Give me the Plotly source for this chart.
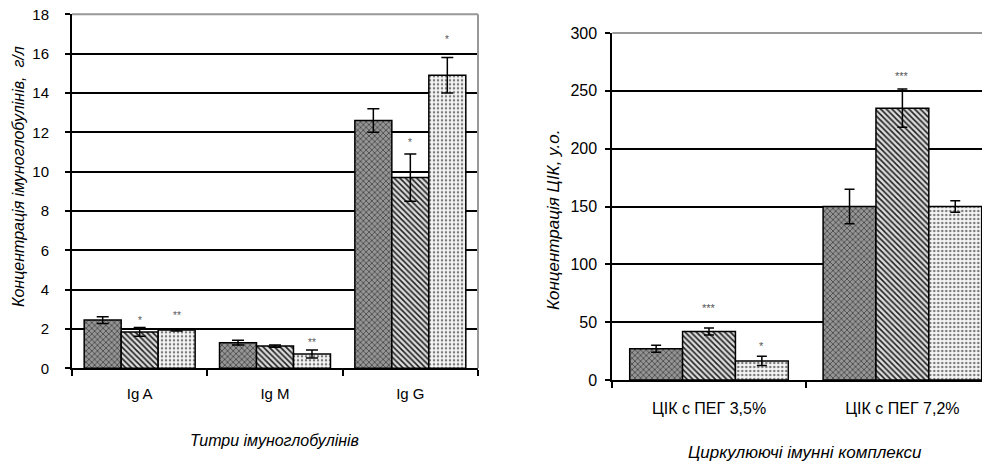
import plotly.graph_objects as go

# ---------------- data ----------------
ig_categories = ["Ig A", "Ig M", "Ig G"]
ig_group1 = [2.45, 1.30, 12.6]
ig_group1_err = [0.17, 0.12, 0.6]
ig_group2 = [1.85, 1.13, 9.7]
ig_group2_err = [0.22, 0.06, 1.2]
ig_group3 = [1.95, 0.73, 14.9]
ig_group3_err = [0.05, 0.20, 0.9]
ig_stars = [["", "*", "**"], ["", "", "**"], ["", "*", "*"]]
ig_star_y = [[None, 2.45, 2.66], [None, None, 1.29], [None, 11.5, 16.7]]
ig_yticks = [0, 2, 4, 6, 8, 10, 12, 14, 16, 18]

cic_categories = ["ЦІК с ПЕГ 3,5%", "ЦІК с ПЕГ 7,2%"]
cic_group1 = [27, 150]
cic_group1_err = [3, 15]
cic_group2 = [42, 235]
cic_group2_err = [3, 16.5]
cic_group3 = [16.5, 150]
cic_group3_err = [4, 5]
cic_stars = [["", "***", "*"], ["", "***", ""]]
cic_star_y = [[None, 62, 29], [None, 263, None]]
cic_yticks = [0, 50, 100, 150, 200, 250, 300]

BARGAP = 0.18
SANS = "Liberation Sans, Arial, sans-serif"

# page renders with an 8px body margin -> figure is 8px smaller and offset
W, H, OFF = 982, 456, 8


def px(xr):
    return (xr - OFF) / W


def py(yr):
    return (H - (yr - OFF)) / H


patterns = [
    dict(shape="x", bgcolor="#959595", fgcolor="#404040", size=4, solidity=0.35, fillmode="replace"),
    dict(shape="\\", bgcolor="#dcdcdc", fgcolor="#222222", size=4, solidity=0.4, fillmode="replace"),
    dict(shape=".", bgcolor="#f6f6f6", fgcolor="#7a7a7a", size=4, solidity=0.3, fillmode="replace"),
]

fig = go.Figure()


def add_groups(xa, ya, groups, errs, cap):
    n = len(groups[0])
    for k, (vals, e) in enumerate(zip(groups, errs)):
        fig.add_trace(go.Bar(
            x=list(range(n)), y=vals, xaxis=xa, yaxis=ya,
            offsetgroup=str(k),
            marker=dict(color="#ffffff", pattern=patterns[k],
                        line=dict(color="black", width=1.5)),
            error_y=dict(type="data", array=e, visible=True, color="black",
                         thickness=1.5, width=cap),
            showlegend=False, hoverinfo="skip",
        ))


add_groups("x", "y", [ig_group1, ig_group2, ig_group3],
           [ig_group1_err, ig_group2_err, ig_group3_err], 6)
add_groups("x2", "y2", [cic_group1, cic_group2, cic_group3],
           [cic_group1_err, cic_group2_err, cic_group3_err], 5)

annotations = []
bw = (1 - BARGAP) / 3


def add_stars(xref, yref, stars, star_y, size):
    for i, (row, ys) in enumerate(zip(stars, star_y)):
        for k, (s, yv) in enumerate(zip(row, ys)):
            if s:
                annotations.append(dict(
                    x=i + (k - 1) * bw, y=yv, xref=xref, yref=yref, text=s,
                    showarrow=False, yanchor="middle",
                    font=dict(family=SANS, size=size, color="#555555")))


add_stars("x", "y", ig_stars, ig_star_y, 10)
add_stars("x2", "y2", cic_stars, cic_star_y, 11)

# axis titles
annotations += [
    dict(text="Концентрація імуноглобулінів,  г/л", textangle=-90,
         x=px(18), y=py(177), xref="paper", yref="paper",
         showarrow=False, xanchor="center", yanchor="middle",
         font=dict(family=SANS, size=16, style="italic", color="black")),
    dict(text="Титри імуноглобулінів",
         x=px(274), y=py(440), xref="paper", yref="paper",
         showarrow=False, xanchor="center", yanchor="middle",
         font=dict(family=SANS, size=16, style="italic", color="black")),
    dict(text="Концентрація ЦІК, у.о.", textangle=-90,
         x=px(553), y=py(220), xref="paper", yref="paper",
         showarrow=False, xanchor="center", yanchor="middle",
         font=dict(family=SANS, size=17, style="italic", color="black")),
    dict(text="Циркулюючі імунні комплекси",
         x=px(805), y=py(452), xref="paper", yref="paper",
         showarrow=False, xanchor="center", yanchor="middle",
         font=dict(family=SANS, size=17, style="italic", color="black")),
]

common_y = dict(showline=True, linecolor="black", linewidth=2,
                ticks="outside", ticklen=5, tickwidth=2, tickcolor="black",
                showgrid=True, gridcolor="black", gridwidth=1.5,
                zeroline=False, tickmode="array", automargin=False,
                ticklabeloverflow="allow")
common_x = dict(showline=True, linecolor="black", linewidth=2,
                tickmode="array", ticks="", showgrid=False, zeroline=False,
                automargin=False, ticklabeloverflow="allow",
                minor=dict(ticks="outside", ticklen=6, tickwidth=2,
                           tickcolor="black", showgrid=False))

fig.update_layout(
    template="none",
    width=W, height=H,
    margin=dict(l=0, r=0, t=0, b=0, pad=0, autoexpand=False),
    paper_bgcolor="white", plot_bgcolor="white",
    barmode="group", bargap=BARGAP, bargroupgap=0,
    xaxis=dict(domain=[px(72), px(478)], range=[-0.5, 2.5], anchor="y",
               tickvals=list(range(len(ig_categories))), ticktext=ig_categories,
               tickfont=dict(family=SANS, size=15, color="black"),
               ticklabelstandoff=11,
               **common_x),
    yaxis=dict(domain=[py(368.3), py(14.3)], range=[0, 18],
               anchor="x", tickvals=ig_yticks,
               tickfont=dict(family=SANS, size=15, color="black"),
               ticklabelstandoff=13,
               **common_y),
    xaxis2=dict(domain=[px(612.3), 1], range=[-0.5, 1.453], anchor="y2",
                tickvals=list(range(len(cic_categories))), ticktext=cic_categories,
                tickfont=dict(family=SANS, size=16, color="black"),
                ticklabelstandoff=13,
                **common_x),
    yaxis2=dict(domain=[py(380), py(33)], range=[0, 300],
                anchor="x2", tickvals=cic_yticks,
                tickfont=dict(family=SANS, size=16, color="black"),
                ticklabelstandoff=5,
                **common_y),
    annotations=annotations,
    shapes=[
        dict(type="line", xref="x domain", yref="y domain", x0=0, x1=1, y0=1, y1=1,
             line=dict(color="#999999", width=2), layer="above"),
        dict(type="line", xref="x domain", yref="y domain", x0=1, x1=1, y0=0, y1=1,
             line=dict(color="#999999", width=2), layer="above"),
        dict(type="line", xref="x2 domain", yref="y2 domain", x0=0, x1=1, y0=1, y1=1,
             line=dict(color="#999999", width=2), layer="above"),
    ],
)
fig.update_xaxes(minor_tickvals=[-0.5, 0.5, 1.5, 2.5], selector=dict(anchor="y"))
fig.update_xaxes(minor_tickvals=[-0.5, 0.5, 1.5], selector=dict(anchor="y2"))

fig.write_html("out.html")
